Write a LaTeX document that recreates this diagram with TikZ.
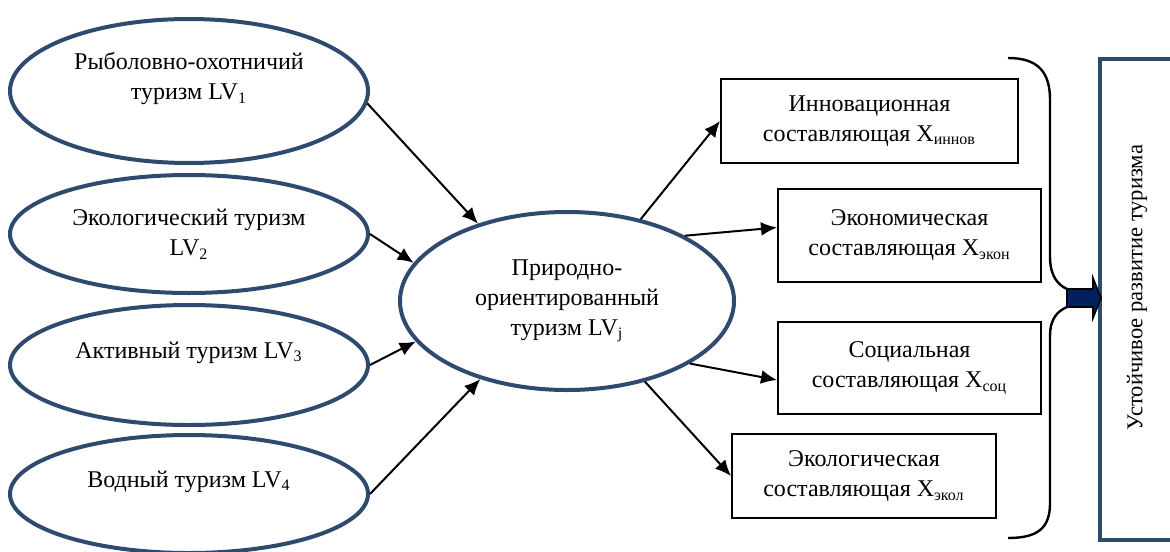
\documentclass[tikz,border=0pt]{standalone}
\usepackage{fontspec}
\setmainfont{Liberation Serif}
\usepackage{xcolor}
\usepackage{tikz}
\usetikzlibrary{shapes.geometric,arrows.meta}
\definecolor{ovalblue}{HTML}{2E4A6E}
\definecolor{navyfill}{HTML}{002060}

\begin{document}
\begin{tikzpicture}[x=0.5pt,y=-0.5pt,
    font=\fontsize{12}{15}\selectfont,
    oval/.style={ellipse,draw=ovalblue,line width=2pt,align=center,inner sep=0pt,minimum width=179pt},
    comp/.style={rectangle,draw,line width=1pt,align=center,inner sep=0pt},
    >={Latex[length=8pt,width=7pt]}]
        \useasboundingbox (0,0) rectangle (1170,551);
        \node[oval,minimum height=72pt] (LV1) at (189,91) {Рыболовно-охотничий\\туризм LV\textsubscript{1}\\ ~};
        \node[oval,minimum height=59pt] (LV2) at (189,234) {Экологический туризм\\LV\textsubscript{2}};
        \node[oval,minimum height=60pt] (LV3) at (189,365) {Активный туризм LV\textsubscript{3}\\ ~};
        \node[oval,minimum height=59pt] (LV4) at (189,494) {Водный туризм LV\textsubscript{4}\\ ~};
        \node[oval,minimum width=167pt,minimum height=89pt] (LVj) at (567,301) {Природно-\\ориентированный\\туризм LV\textsubscript{j}};
        \node[comp,minimum width=148.5pt,minimum height=42pt] (Xinn) at (869.5,121) {Инновационная\\составляющая X\textsubscript{иннов}};
        \node[comp,minimum width=131.5pt,minimum height=46.5pt] (Xek) at (909.5,235.5) {Экономическая\\составляющая X\textsubscript{экон}};
        \node[comp,minimum width=131.5pt,minimum height=46pt] (Xsoc) at (909.5,368) {Социальная\\составляющая X\textsubscript{соц}};
        \node[comp,minimum width=132pt,minimum height=42pt] (Xekol) at (864,476) {Экологическая\\составляющая X\textsubscript{экол}};
        \node[rectangle,draw=ovalblue,line width=2.2pt,rotate=90,minimum width=240.5pt,minimum height=37pt,font=\fontsize{11.3}{14}\selectfont] (goal) at (1137,299.5) {\hspace*{12pt}Устойчивое развитие туризма};
        \path[->,line width=1pt]
          (LV1.-4) edge (LVj.139)
          (LV2.0) edge (LVj.166)
          (LV3.0) edge (LVj.-165)
          (LV4.0) edge (LVj.-138)
          (LVj.48) edge (Xinn.west)
          (LVj.29) edge ([yshift=4pt]Xek.west)
          (LVj.-27) edge ([yshift=-6pt]Xsoc.west)
          (LVj.-46) edge (Xekol.west)
          ;
        \draw[line width=1.2pt] (1008,58) .. controls (1038,58) and (1050,72) .. (1050,100) -- (1050,257) .. controls (1050,276) and (1058,285) .. (1067,289);
        \draw[line width=1.2pt] (1067,307) .. controls (1058,311) and (1050,318) .. (1050,336) -- (1050,503) .. controls (1050,528) and (1038,538) .. (1008,538);
        \draw[fill=navyfill,line width=0.8pt] (1067,289) -- (1093,289) -- (1093,278) -- (1101,298) -- (1093,318) -- (1093,307) -- (1067,307) -- cycle;
      \end{tikzpicture}
\end{document}
